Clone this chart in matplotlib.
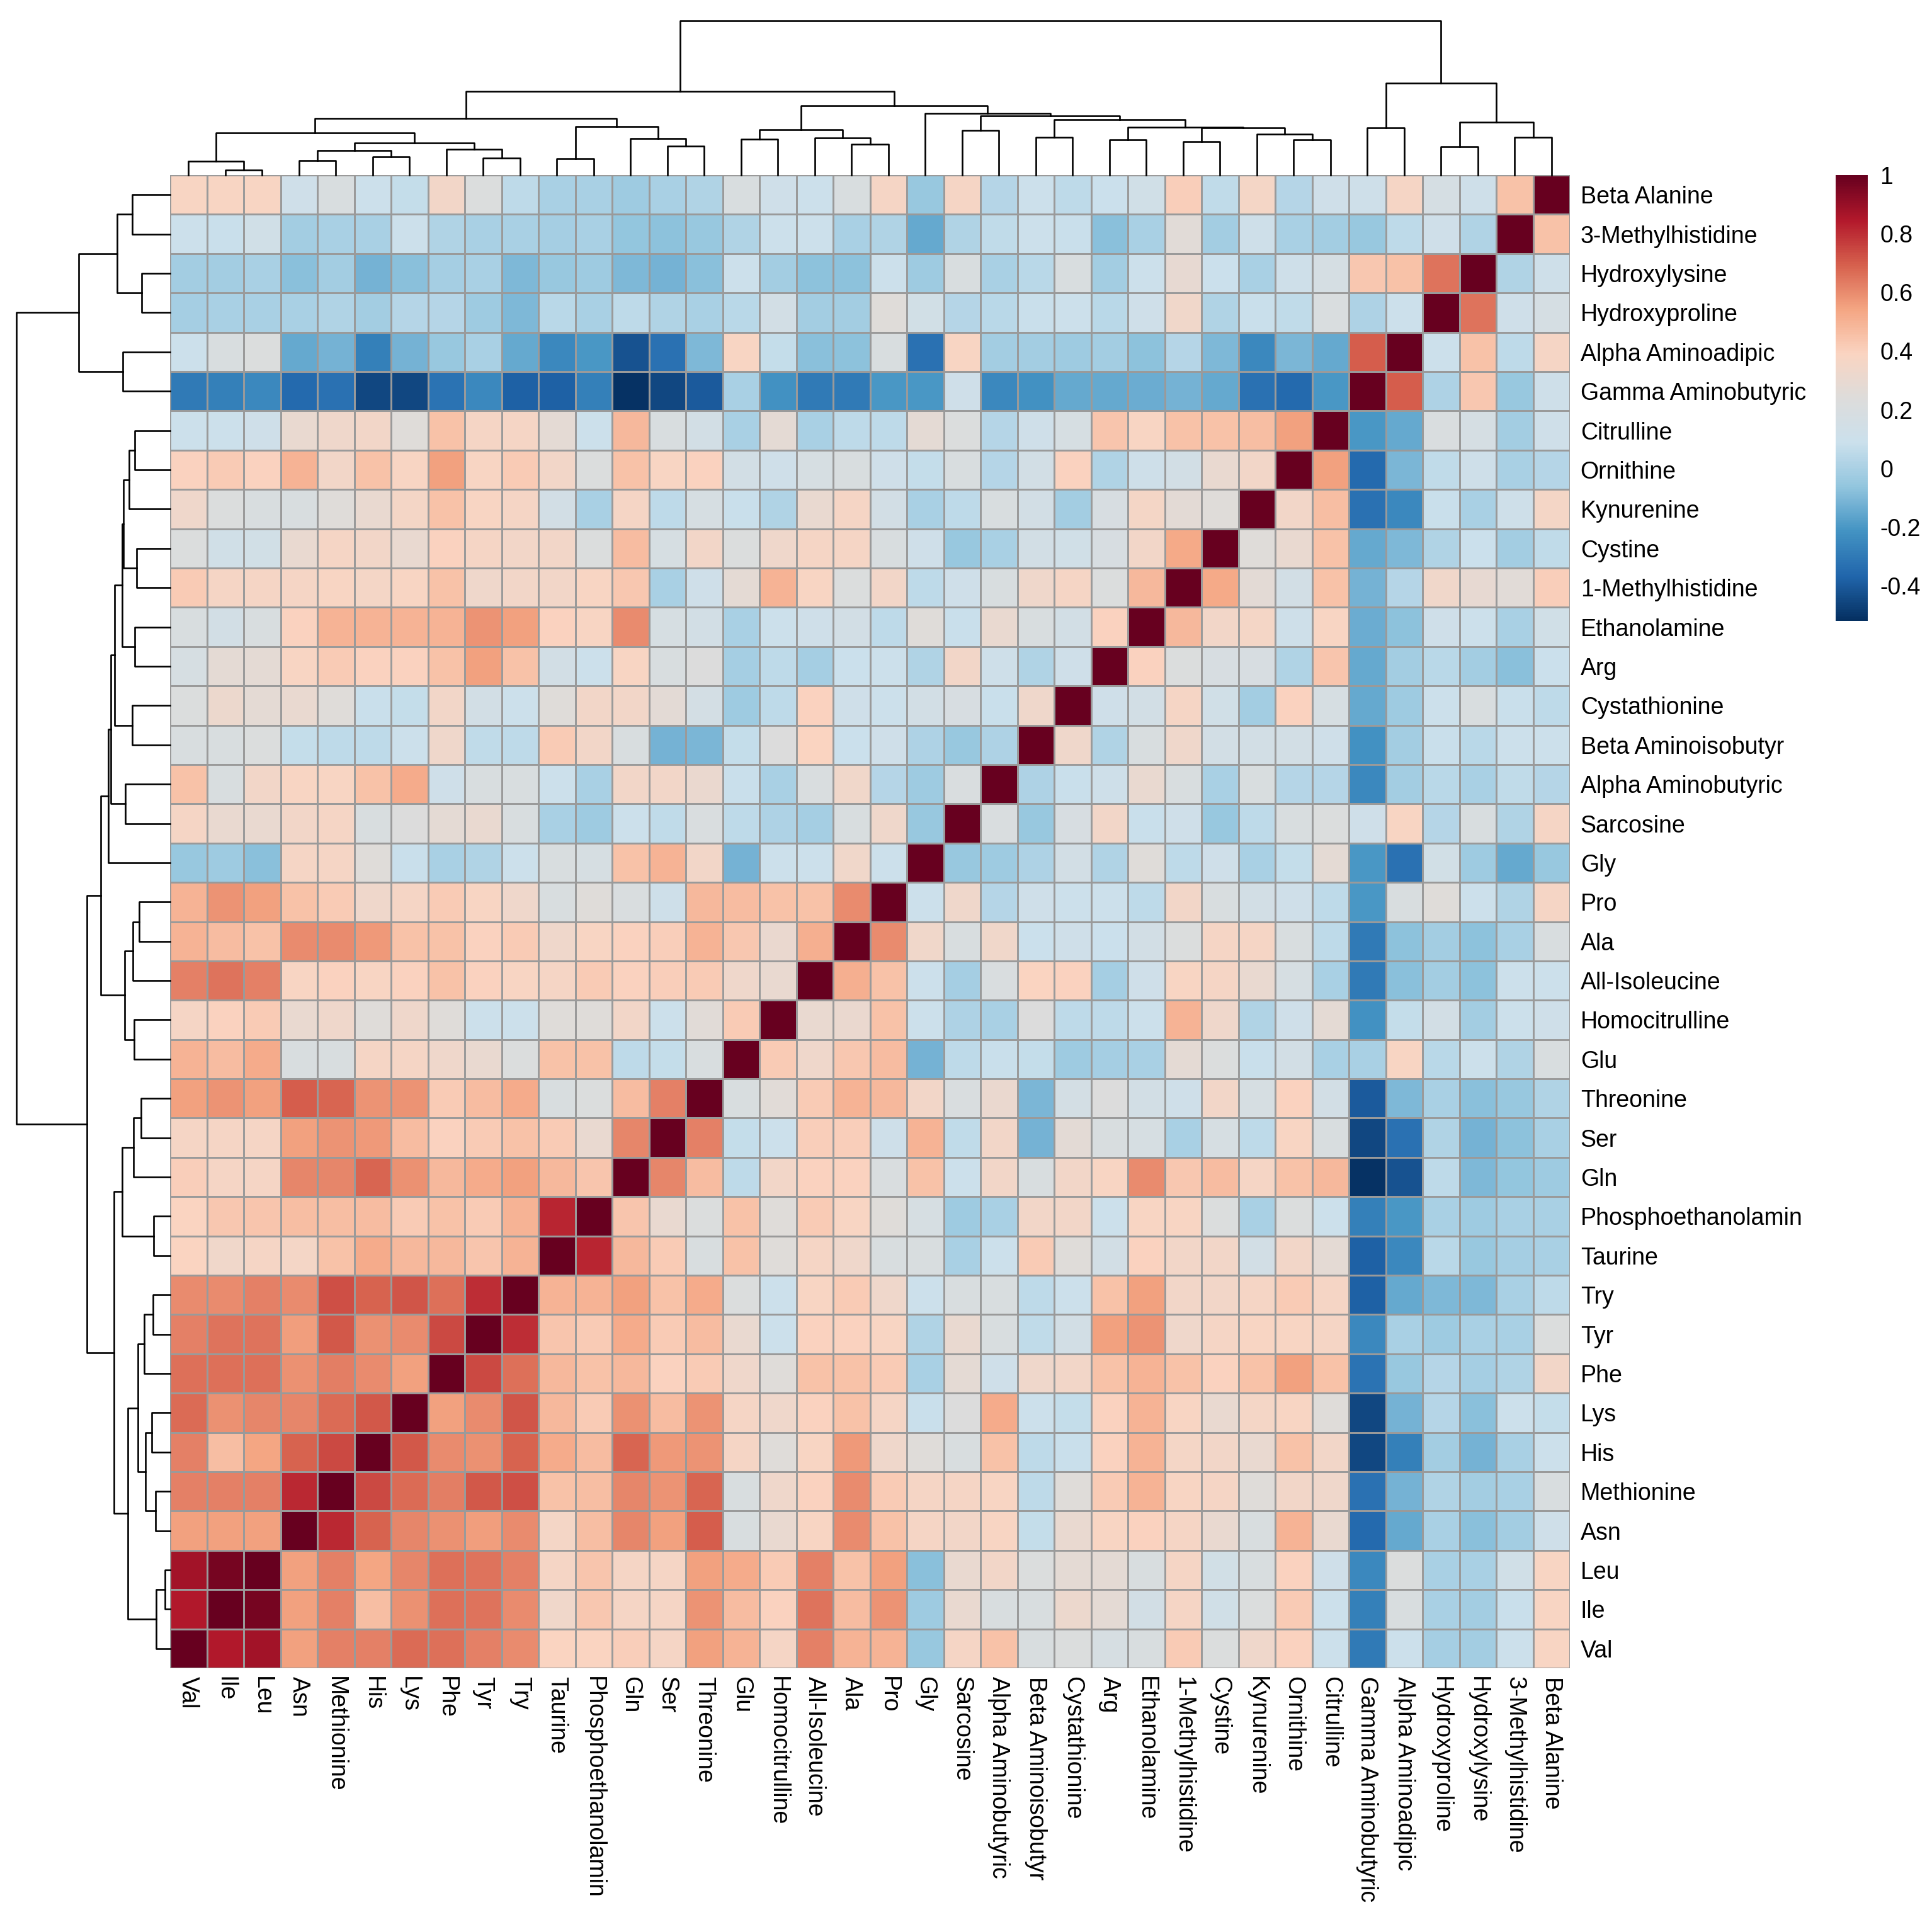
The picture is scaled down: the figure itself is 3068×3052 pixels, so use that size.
import matplotlib

matplotlib.use("Agg")

import matplotlib.pyplot as plt
import numpy as np
from matplotlib.colors import LinearSegmentedColormap


# leaf order of the clustered matrix (left to right on the x axis)
amino_acids = [
    "Val", "Ile", "Leu", "Asn", "Methionine", "His", "Lys", "Phe", "Tyr", "Try",
    "Taurine", "Phosphoethanolamin", "Gln", "Ser", "Threonine", "Glu",
    "Homocitrulline", "All-Isoleucine", "Ala", "Pro", "Gly", "Sarcosine",
    "Alpha Aminobutyric", "Beta Aminoisobutyr", "Cystathionine", "Arg",
    "Ethanolamine", "1-Methylhistidine", "Cystine", "Kynurenine", "Ornithine",
    "Citrulline", "Gamma Aminobutyric", "Alpha Aminoadipic", "Hydroxyproline",
    "Hydroxylysine", "3-Methylhistidine", "Beta Alanine",
]

# correlation of each amino acid with the ones before it in the order above
corr_val = []
corr_ile = [0.85]
corr_leu = [0.88, 0.97]
corr_asn = [0.55, 0.55, 0.55]
corr_methionine = [0.62, 0.62, 0.62, 0.81]
corr_his = [0.62, 0.46, 0.54, 0.69, 0.74]
corr_lys = [0.67, 0.59, 0.61, 0.61, 0.67, 0.71]
corr_phe = [0.66, 0.66, 0.66, 0.59, 0.63, 0.60, 0.55]
corr_tyr = [0.62, 0.65, 0.65, 0.56, 0.71, 0.59, 0.60, 0.74]
corr_try = [0.60, 0.60, 0.62, 0.60, 0.73, 0.69, 0.72, 0.66, 0.80]
corr_taurine = [0.39, 0.34, 0.37, 0.36, 0.45, 0.52, 0.48, 0.48, 0.44, 0.50]
corr_phospho = [0.39, 0.43, 0.44, 0.46, 0.46, 0.47, 0.42, 0.45, 0.42, 0.50, 0.82]
corr_gln = [0.41, 0.37, 0.37, 0.61, 0.61, 0.68, 0.59, 0.48, 0.52, 0.55, 0.48, 0.44]
corr_ser = [0.37, 0.37, 0.37, 0.55, 0.58, 0.57, 0.47, 0.40, 0.42, 0.45, 0.42, 0.30,
            0.61]
corr_threonine = [0.55, 0.58, 0.55, 0.70, 0.68, 0.58, 0.58, 0.42, 0.47, 0.52, 0.20,
                  0.22, 0.47, 0.62]
corr_glu = [0.50, 0.47, 0.52, 0.20, 0.20, 0.37, 0.37, 0.33, 0.30, 0.22, 0.45, 0.45,
            0.05, 0.07, 0.20]
corr_homocit = [0.37, 0.40, 0.42, 0.30, 0.33, 0.25, 0.33, 0.25, 0.10, 0.10, 0.25,
                0.25, 0.35, 0.10, 0.26, 0.42]
corr_allile = [0.62, 0.65, 0.62, 0.38, 0.40, 0.38, 0.40, 0.45, 0.40, 0.38, 0.37,
               0.42, 0.40, 0.41, 0.42, 0.33, 0.30]
corr_ala = [0.50, 0.47, 0.45, 0.60, 0.60, 0.57, 0.45, 0.45, 0.40, 0.42, 0.33, 0.38,
            0.40, 0.41, 0.50, 0.43, 0.31, 0.51]
corr_pro = [0.50, 0.58, 0.55, 0.45, 0.42, 0.33, 0.37, 0.42, 0.38, 0.33, 0.20, 0.25,
            0.21, 0.11, 0.48, 0.47, 0.45, 0.45, 0.60]
corr_gly = [-0.05, -0.03, -0.08, 0.37, 0.37, 0.25, 0.08, 0.00, 0.02, 0.10, 0.20,
            0.18, 0.45, 0.50, 0.35, -0.12, 0.10, 0.10, 0.34, 0.10]
corr_sarcosine = [0.37, 0.30, 0.30, 0.35, 0.37, 0.20, 0.23, 0.28, 0.30, 0.20, 0.00,
                  -0.03, 0.10, 0.06, 0.21, 0.05, 0.01, -0.01, 0.20, 0.33, -0.05]
corr_aab = [0.45, 0.20, 0.35, 0.38, 0.38, 0.45, 0.52, 0.12, 0.20, 0.20, 0.10, 0.00,
            0.35, 0.35, 0.31, 0.08, 0.00, 0.21, 0.34, 0.03, -0.03, 0.21]
corr_baib = [0.20, 0.20, 0.22, 0.07, 0.05, 0.05, 0.10, 0.33, 0.06, 0.05, 0.42, 0.35,
             0.20, -0.12, -0.11, 0.07, 0.23, 0.39, 0.09, 0.12, 0.01, -0.05, 0.01]
corr_cystathionine = [0.22, 0.32, 0.28, 0.30, 0.25, 0.08, 0.07, 0.35, 0.15, 0.10,
                      0.25, 0.35, 0.35, 0.27, 0.16, -0.03, 0.05, 0.40, 0.12, 0.10,
                      0.15, 0.19, 0.08, 0.33]
corr_arg = [0.18, 0.28, 0.28, 0.38, 0.42, 0.40, 0.40, 0.45, 0.55, 0.45, 0.15, 0.10,
            0.38, 0.20, 0.23, -0.01, 0.05, -0.01, 0.09, 0.10, 0.02, 0.35, 0.11, 0.02,
            0.12]
corr_ethanolamine = [0.20, 0.15, 0.20, 0.40, 0.50, 0.50, 0.50, 0.50, 0.58, 0.55,
                     0.40, 0.38, 0.60, 0.18, 0.15, 0.00, 0.10, 0.12, 0.15, 0.05,
                     0.25, 0.08, 0.30, 0.20, 0.15, 0.40]
corr_1mh = [0.42, 0.37, 0.37, 0.37, 0.38, 0.36, 0.38, 0.45, 0.33, 0.35, 0.35, 0.38,
            0.43, 0.00, 0.12, 0.28, 0.50, 0.38, 0.22, 0.35, 0.05, 0.12, 0.20, 0.33,
            0.37, 0.22, 0.48]
corr_cystine = [0.22, 0.13, 0.14, 0.30, 0.37, 0.35, 0.30, 0.40, 0.37, 0.35, 0.35,
                0.22, 0.47, 0.18, 0.35, 0.22, 0.33, 0.37, 0.37, 0.20, 0.12, -0.05,
                0.00, 0.15, 0.13, 0.19, 0.35, 0.53]
corr_kynurenine = [0.33, 0.22, 0.20, 0.20, 0.25, 0.30, 0.36, 0.45, 0.38, 0.37, 0.15,
                   0.00, 0.37, 0.05, 0.18, 0.08, 0.02, 0.30, 0.37, 0.15, 0.00, 0.05,
                   0.20, 0.15, -0.02, 0.19, 0.36, 0.27, 0.25]
corr_ornithine = [0.40, 0.42, 0.40, 0.50, 0.35, 0.45, 0.38, 0.55, 0.38, 0.42, 0.35,
                  0.22, 0.45, 0.38, 0.40, 0.15, 0.12, 0.18, 0.20, 0.12, 0.07, 0.20,
                  0.03, 0.15, 0.40, 0.02, 0.11, 0.15, 0.30, 0.35]
corr_citrulline = [0.10, 0.10, 0.12, 0.30, 0.33, 0.35, 0.25, 0.45, 0.37, 0.37, 0.28,
                   0.10, 0.48, 0.20, 0.15, 0.00, 0.28, 0.00, 0.05, 0.05, 0.28, 0.22,
                   0.03, 0.12, 0.18, 0.44, 0.38, 0.45, 0.45, 0.46, 0.55]
corr_gaba = [-0.30, -0.28, -0.25, -0.35, -0.33, -0.45, -0.45, -0.32, -0.25, -0.38,
             -0.38, -0.28, -0.51, -0.45, -0.40, 0.00, -0.22, -0.30, -0.30, -0.20,
             -0.20, 0.12, -0.25, -0.22, -0.15, -0.15, -0.14, -0.12, -0.15, -0.33,
             -0.35, -0.20]
corr_aaa = [0.10, 0.20, 0.22, -0.15, -0.12, -0.28, -0.12, -0.05, 0.00, -0.15, -0.25,
            -0.20, -0.42, -0.33, -0.10, 0.38, 0.07, -0.08, -0.07, 0.20, -0.33, 0.38,
            -0.02, -0.02, -0.03, -0.02, -0.07, 0.03, -0.10, -0.25, -0.11, -0.15, 0.70]
corr_hydroxyproline = [-0.01, 0.00, 0.00, 0.00, 0.02, -0.02, 0.03, 0.03, -0.03,
                       -0.10, 0.04, 0.00, 0.05, 0.02, 0.00, 0.04, 0.15, -0.02, -0.02,
                       0.25, 0.14, 0.03, 0.04, 0.08, 0.10, 0.04, 0.12, 0.34, 0.02,
                       0.08, 0.06, 0.21, 0.01, 0.10]
corr_hydroxylysine = [-0.02, -0.02, 0.00, -0.08, -0.02, -0.12, -0.08, -0.01, 0.00,
                      -0.10, -0.05, -0.03, -0.10, -0.12, -0.08, 0.10, -0.02, -0.07,
                      -0.07, 0.10, -0.03, 0.20, 0.00, 0.04, 0.20, -0.02, 0.10, 0.29,
                      0.09, 0.00, 0.11, 0.17, 0.43, 0.45, 0.65]
corr_3mh = [0.10, 0.08, 0.13, -0.02, 0.00, 0.00, 0.10, 0.02, 0.00, 0.00, -0.01, 0.00,
            -0.06, -0.07, -0.05, 0.02, 0.10, 0.10, 0.00, 0.02, -0.15, 0.02, 0.06,
            0.10, 0.08, -0.08, 0.00, 0.26, -0.02, 0.11, 0.00, -0.02, -0.05, 0.05,
            0.12, 0.02]
corr_beta_alanine = [0.38, 0.38, 0.38, 0.12, 0.20, 0.10, 0.07, 0.35, 0.22, 0.05,
                     0.00, 0.00, -0.03, 0.00, 0.02, 0.20, 0.12, 0.10, 0.20, 0.37,
                     -0.05, 0.37, 0.03, 0.10, 0.05, 0.09, 0.13, 0.41, 0.06, 0.36,
                     0.03, 0.12, 0.11, 0.37, 0.17, 0.11, 0.45]

lower_rows = [
    corr_val, corr_ile, corr_leu, corr_asn, corr_methionine, corr_his, corr_lys,
    corr_phe, corr_tyr, corr_try, corr_taurine, corr_phospho, corr_gln, corr_ser,
    corr_threonine, corr_glu, corr_homocit, corr_allile, corr_ala, corr_pro,
    corr_gly, corr_sarcosine, corr_aab, corr_baib, corr_cystathionine, corr_arg,
    corr_ethanolamine, corr_1mh, corr_cystine, corr_kynurenine, corr_ornithine,
    corr_citrulline, corr_gaba, corr_aaa, corr_hydroxyproline, corr_hydroxylysine,
    corr_3mh, corr_beta_alanine,
]

# hierarchical clustering (same tree on both axes): (cluster a, cluster b, height)
# leaves are 0..37, merge k creates cluster 38 + k
linkage = [
    (1, 2, 0.25), (0, 38, 0.65), (3, 4, 0.70), (5, 6, 0.88), (40, 41, 1.18),
    (8, 9, 0.82), (7, 43, 1.24), (42, 44, 1.54), (39, 45, 2.00), (10, 11, 0.77),
    (13, 14, 1.37), (12, 48, 1.75), (47, 49, 2.29), (46, 50, 2.68), (15, 16, 1.70),
    (18, 19, 1.47), (17, 53, 1.77), (52, 54, 2.15), (21, 22, 2.12), (23, 24, 1.81),
    (25, 26, 1.68), (27, 28, 1.60), (30, 31, 1.67), (29, 60, 1.94), (59, 61, 2.23),
    (58, 62, 2.27), (57, 63, 2.64), (56, 64, 2.81), (20, 65, 2.93), (55, 66, 3.30),
    (51, 67, 3.97), (32, 33, 2.25), (34, 35, 1.36), (36, 37, 1.81), (70, 71, 2.52),
    (69, 72, 4.36), (68, 73, 7.33),
]

n = len(amino_acids)
corr = np.eye(n)
for i, values in enumerate(lower_rows):
    assert len(values) == i, (amino_acids[i], len(values))
    for j, v in enumerate(values):
        corr[i, j] = v
        corr[j, i] = v

# rows are drawn in the reverse leaf order (Beta Alanine on top)
row_labels = amino_acids[::-1]
grid = corr[::-1, :]

# RdBu ramp with the greyish middle seen in the reference
palette = LinearSegmentedColormap.from_list("rdbu_grey", [
    "#053061", "#2166ac", "#4393c3", "#92c5de", "#cbe0ec", "#dddcdb",
    "#fad4c1", "#f4a582", "#d6604d", "#b2182b", "#67001f",
])

plt.rcParams["font.family"] = ["Liberation Sans", "DejaVu Sans"]

W, H = 3068, 3052


def box(x0, y0, x1, y1):
    return [x0 / W, 1 - y1 / H, (x1 - x0) / W, (y1 - y0) / H]


def draw_tree(ax, positions, horizontal):
    pos = dict(enumerate(positions))
    height = {i: 0.0 for i in range(n)}
    for k, (a, b, h) in enumerate(linkage):
        xs = [pos[a], pos[a], pos[b], pos[b]]
        ys = [height[a], h, h, height[b]]
        if horizontal:
            ax.plot(ys, xs, color="black", lw=1.9, clip_on=False)
        else:
            ax.plot(xs, ys, color="black", lw=1.9, clip_on=False)
        pos[n + k] = (pos[a] + pos[b]) / 2
        height[n + k] = h


fig = plt.figure(figsize=(W / 100, H / 100), dpi=100)

top, bottom, left, right = 278, 2649, 270, 2493
ax = fig.add_axes(box(left, top, right, bottom))
edges = np.arange(n + 1)
mesh = ax.pcolormesh(edges, edges, grid, cmap=palette, vmin=-0.52, vmax=1.0,
                     edgecolors="#9a9a9a", linewidth=2.0)
ax.set_xlim(0, n)
ax.set_ylim(n, 0)
for side in ax.spines.values():
    side.set_visible(False)
ax.set_xticks(np.arange(n) + 0.5)
ax.set_xticklabels(amino_acids, rotation=270, fontsize=27, va="top", ha="center")
ax.yaxis.tick_right()
ax.set_yticks(np.arange(n) + 0.5)
ax.set_yticklabels(row_labels, fontsize=27)
ax.tick_params(axis="x", length=0, pad=9)
ax.tick_params(axis="y", length=0, pad=12)

leaf_max = max(h for _, _, h in linkage)

ax_top = fig.add_axes(box(left, 33, right, top))
draw_tree(ax_top, np.arange(n) + 0.5, horizontal=False)
ax_top.set_xlim(0, n)
ax_top.set_ylim(0, leaf_max)
ax_top.axis("off")

ax_left = fig.add_axes(box(26, top, left, bottom))
draw_tree(ax_left, n - 1 - np.arange(n) + 0.5, horizontal=True)
ax_left.set_xlim(leaf_max, 0)
ax_left.set_ylim(n, 0)
ax_left.axis("off")

cax = fig.add_axes(box(2915, top, 2966, 986))
cbar = fig.colorbar(mesh, cax=cax)
cbar.outline.set_visible(False)
cbar_ticks = [1, 0.8, 0.6, 0.4, 0.2, 0, -0.2, -0.4]
cbar.set_ticks(cbar_ticks)
cbar.set_ticklabels(["1", "0.8", "0.6", "0.4", "0.2", "0", "-0.2", "-0.4"])
cax.tick_params(length=0, pad=14, labelsize=27)

fig.savefig("out.png", dpi=100)
plt.close(fig)
